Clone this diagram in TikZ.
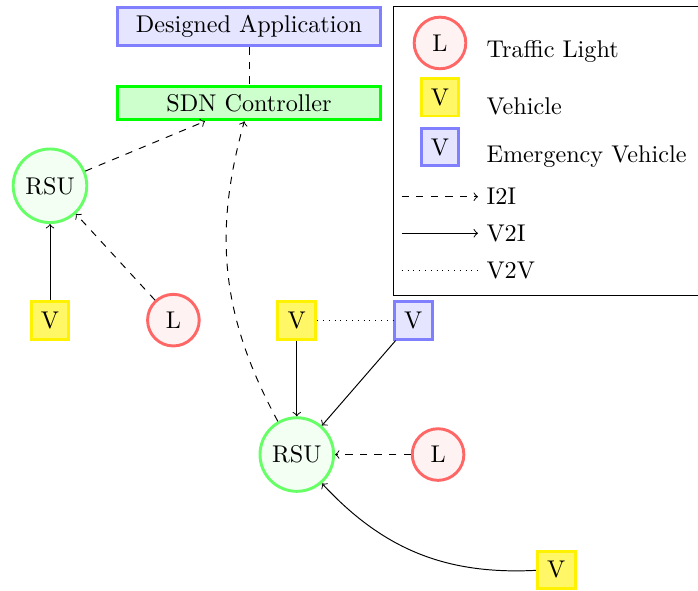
\documentclass[tikz,border=0pt]{standalone}
\usepackage{tikz}
\usetikzlibrary{positioning}

\begin{document}
\begin{tikzpicture}[node distance=1.1cm,
  rsu/.style={circle, draw=green!60, fill=green!5, very thick},
  light/.style={circle, draw=red!60, fill=red!5, very thick, minimum size=0.75cm},
  car/.style={rectangle, draw=yellow, fill=yellow!60, very thick, minimum size=0.55cm},
  ecar/.style={rectangle, draw=blue!50, fill=blue!10, very thick, minimum size=0.55cm},
  ctrl/.style={rectangle, draw=green, fill=green!20, very thick, minimum width=3.83cm},
  app/.style={rectangle, draw=blue!50, fill=blue!10, very thick, minimum width=3.83cm},
  i2i/.style={->, dashed},
  v2i/.style={->},
  v2v/.style={dotted}]
\useasboundingbox (0,0) rectangle (10.137,-8.569);

\node[app] (app) at (3.616,-0.388) {Designed Application};
\node[ctrl] (sdn) at (3.616,-1.496) {SDN Controller};
\node[rsu] (rsuA) at (0.726,-2.698) {RSU};
\node[car, below=of rsuA] (carA) {V};
\node[light, right=of carA] (lightA) {L};
\node[car, right=of lightA] (carB) {V};
\node[ecar, right=of carB] (carC) {V};
\node[rsu, below=of carB] (rsuB) {RSU};
\node[light, right=of rsuB] (lightB) {L};
\node[car] (carD) at (8.079,-8.278) {V};

\draw[dashed] (app) -- (sdn);
\draw[i2i] (rsuA) -- (sdn);
\draw[i2i] (rsuB) to[bend left=22] (sdn);
\draw[i2i] (lightA) -- (rsuA);
\draw[v2i] (carA) -- (rsuA);
\draw[v2i] (carB) -- (rsuB);
\draw[v2i] (carC) -- (rsuB);
\draw[v2v] (carB) -- (carC);
\draw[i2i] (lightB) -- (rsuB);
\draw[v2i] (carD) to[bend left=25] (rsuB);

% legend
\draw (5.712,-0.097) rectangle (10.16,-4.288);
\node[light] (lightKey) at (6.390,-0.624) {L};
\node[car] (carKey) at (6.390,-1.409) {V};
\node[ecar] (ecarKey) at (6.390,-2.135) {V};
\node[anchor=base west] (lightTxt) at (6.942,-0.842) {Traffic Light};
\node[anchor=base west] (carTxt) at (6.942,-1.660) {Vehicle};
\node[anchor=base west] (ecarTxt) at (6.942,-2.357) {Emergency Vehicle};
\coordinate (i2iStart) at (5.834,-2.857);
\coordinate (v2iStart) at (5.834,-3.388);
\coordinate (v2vStart) at (5.834,-3.931);
\node[anchor=west] (i2iTxt) at (6.942,-2.857) {I2I};
\node[anchor=west] (v2iTxt) at (6.942,-3.388) {V2I};
\node[anchor=west] (v2vTxt) at (6.942,-3.931) {V2V};
\draw[i2i] (i2iStart) -- (i2iTxt);
\draw[v2i] (v2iStart) -- (v2iTxt);
\draw[v2v] (v2vStart) -- (v2vTxt);
\end{tikzpicture}
\end{document}
